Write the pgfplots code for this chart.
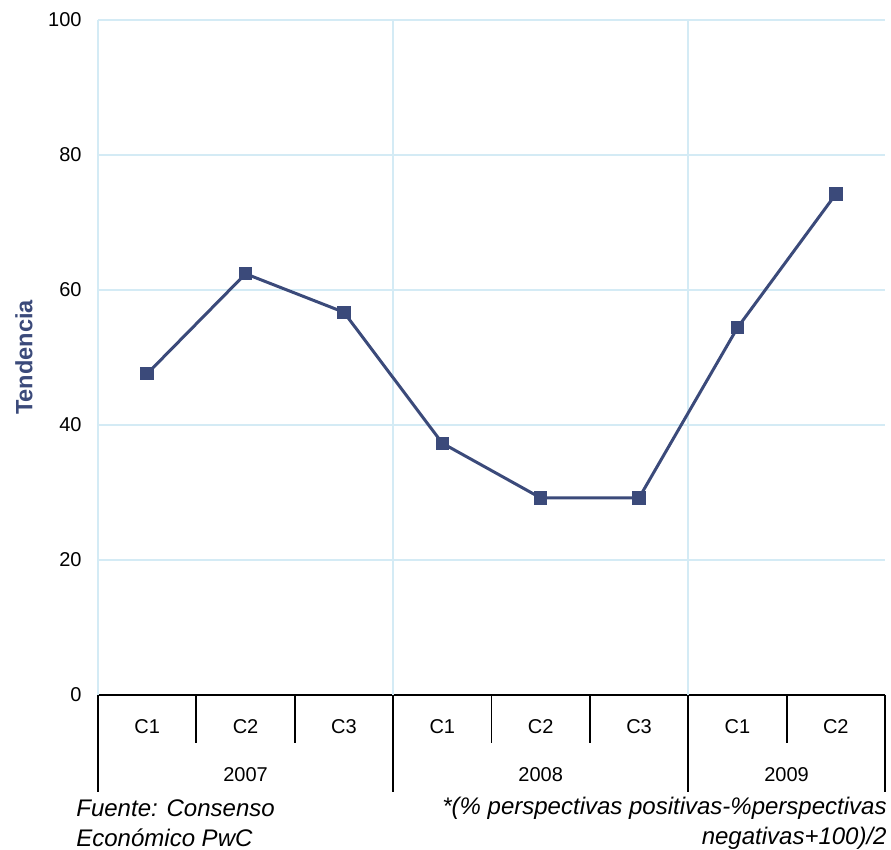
\documentclass[border=0pt]{standalone}
\usepackage{fontspec}
\setmainfont{Liberation Sans}
\usepackage{pgfplots}
\pgfplotsset{compat=1.18}
\definecolor{navy}{HTML}{3B4A7A}
\definecolor{gridc}{HTML}{D4EBF5}
\begin{document}
\begin{tikzpicture}
\begin{axis}[
  scale only axis, width=393.5pt, height=337.5pt,
  xmin=0, xmax=8, ymin=0, ymax=100,
  axis x line=bottom, axis y line=left,
  x axis line style={-, black, line width=0.9pt},
  y axis line style={-, gridc, line width=0.8pt},
  xtick={0.5,1.5,2.5,3.5,4.5,5.5,6.5,7.5},
  xticklabels={C1,C2,C3,C1,C2,C3,C1,C2},
  ytick={0,20,40,60,80,100},
  major tick length=0pt,
  ymajorgrids, grid style={gridc, line width=0.8pt},
  x tick label style={font=\fontsize{10}{12}\selectfont, anchor=center, yshift=-16pt},
  y tick label style={font=\fontsize{10}{12}\selectfont, anchor=east, inner sep=0pt, xshift=-8pt},
  /pgf/number format/assume math mode=true,
  ylabel={Tendencia},
  y label style={font=\bfseries\fontsize{11.8}{14}\selectfont, text=navy, at={(axis description cs:-0.094,0.5)}, anchor=center},
  clip=false,
]
\draw[gridc, line width=0.8pt] (axis cs:3,0) -- (axis cs:3,100);
\draw[gridc, line width=0.8pt] (axis cs:6,0) -- (axis cs:6,100);
\addplot[navy, line width=1.5pt, mark=square*, mark size=2.6pt, mark options={solid, fill=navy}]
  coordinates {(0.5,47.6) (1.5,62.4) (2.5,56.7) (3.5,37.3) (4.5,29.2) (5.5,29.2) (6.5,54.4) (7.5,74.2)};
\draw[black, line width=0.9pt] (axis cs:1,0) -- ++(0,-24pt);
\draw[black, line width=0.9pt] (axis cs:2,0) -- ++(0,-24pt);
\draw[black, line width=0.9pt] (axis cs:4,0) -- ++(0,-24pt);
\draw[black, line width=0.9pt] (axis cs:5,0) -- ++(0,-24pt);
\draw[black, line width=0.9pt] (axis cs:7,0) -- ++(0,-24pt);
\draw[black, line width=0.9pt] (axis cs:0,0) -- ++(0,-48.5pt);
\draw[black, line width=0.9pt] (axis cs:3,0) -- ++(0,-48.5pt);
\draw[black, line width=0.9pt] (axis cs:6,0) -- ++(0,-48.5pt);
\draw[black, line width=0.9pt] (axis cs:8,0) -- ++(0,-48.5pt);
\node[font=\fontsize{10}{12}\selectfont, anchor=center] at ([yshift=-40pt]axis cs:1.5,0) {2007};
\node[font=\fontsize{10}{12}\selectfont, anchor=center] at ([yshift=-40pt]axis cs:4.5,0) {2008};
\node[font=\fontsize{10}{12}\selectfont, anchor=center] at ([yshift=-40pt]axis cs:7,0) {2009};
\node[font=\itshape\fontsize{12}{14}\selectfont, anchor=west, inner sep=0pt] at ([xshift=-11pt, yshift=-56.5pt]axis cs:0,0) {Fuente: Consenso};
\node[font=\itshape\fontsize{12}{14}\selectfont, anchor=west, inner sep=0pt] at ([xshift=-11pt, yshift=-71.5pt]axis cs:0,0) {Económico PwC};
\node[font=\itshape\fontsize{12}{14}\selectfont, anchor=east, inner sep=0pt] at ([xshift=1pt, yshift=-56.5pt]axis cs:8,0) {*(\% perspectivas positivas-\%perspectivas};
\node[font=\itshape\fontsize{12}{14}\selectfont, anchor=east, inner sep=0pt] at ([xshift=1pt, yshift=-71.5pt]axis cs:8,0) {negativas+100)/2};
\coordinate (O) at (axis cs:0,0);
\end{axis}
\pgfresetboundingbox
\path[use as bounding box] ([xshift=-49pt, yshift=-77.5pt]O) rectangle ([xshift=396.5pt, yshift=347.5pt]O);
\end{tikzpicture}
\end{document}
